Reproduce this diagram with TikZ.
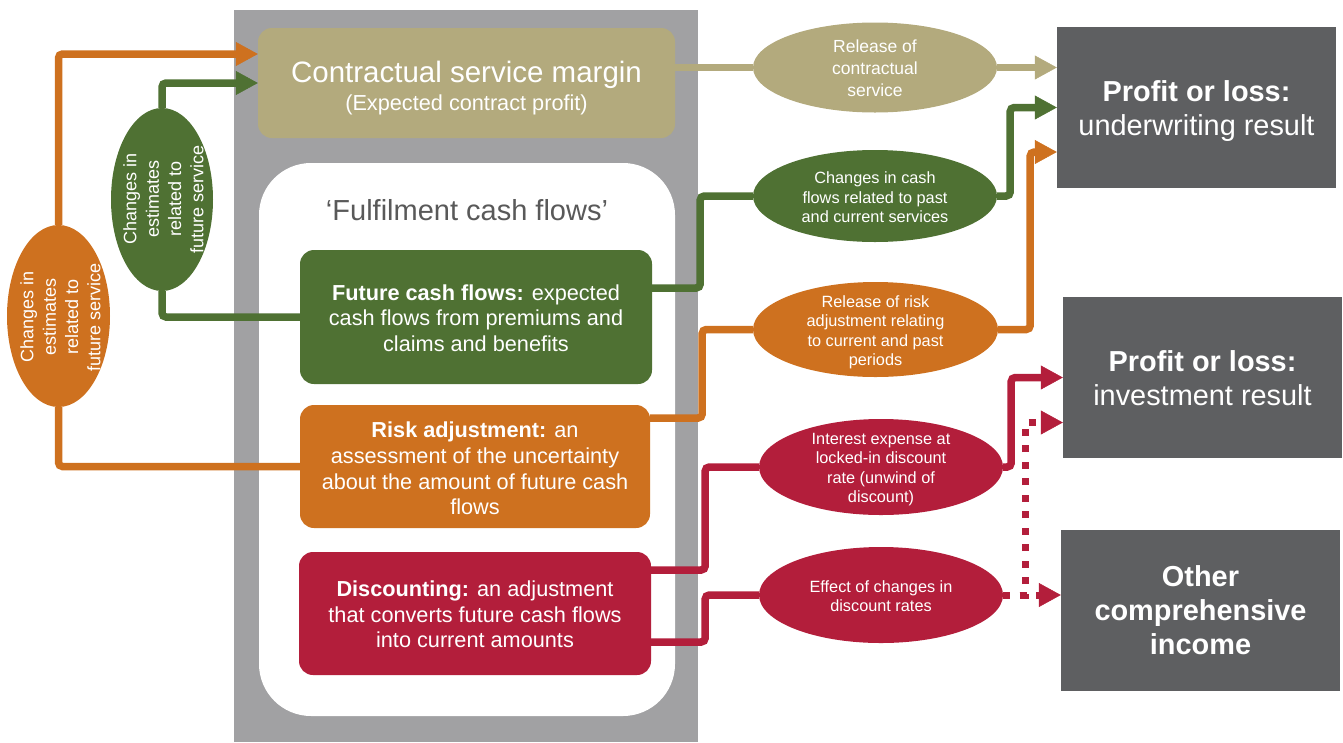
\documentclass[tikz,border=0pt]{standalone}
\usepackage{fontspec}
\setmainfont{Liberation Sans}
\usetikzlibrary{arrows.meta,shapes.geometric}
\definecolor{panel}{HTML}{A1A1A3}
\definecolor{khaki}{HTML}{B3AA7D}
\definecolor{fgreen}{HTML}{4F7133}
\definecolor{forange}{HTML}{CE711F}
\definecolor{fred}{HTML}{B31E3B}
\definecolor{dgray}{HTML}{5E5F61}
\definecolor{labgray}{HTML}{595959}
\tikzset{
  box/.style={draw=none, rounded corners=14pt, inner sep=0pt},
  rbox/.style={draw=none, fill=dgray, inner sep=0pt},
  ell/.style={ellipse, draw=none, inner sep=0pt},
  txt/.style={text=white, align=center, inner sep=0pt},
  boxfont/.style={font=\fontsize{21.7}{25.6}\selectfont},
  ellfont/.style={font=\fontsize{16.3}{19.5}\selectfont},
  sidefont/.style={font=\fontsize{18}{22.3}\selectfont},
  resfont/.style={font=\fontsize{28.9}{33.6}\selectfont},
  conn/.style={line width=7.5pt, rounded corners=4pt},
  arr/.style={-{Triangle[length=22pt,width=24pt,line width=0.5pt]}},
  dotconn/.style={line width=7pt, dash pattern=on 7pt off 9.5pt}
}
\begin{document}
\begin{tikzpicture}[x=1pt,y=-1pt]
\useasboundingbox (0,0) rectangle (1343,742);
% grey column
\fill[panel] (234,10) rectangle (698,742);
% CSM
\node[box, fill=khaki, minimum width=417pt, minimum height=110pt] (csm) at (466.5,83) {};
\node[txt, anchor=base, font=\fontsize{29.5}{34}\selectfont] (csmt) at (466.5,82) {Contractual service margin};
\node[txt, anchor=base, font=\fontsize{21.7}{26}\selectfont] (csms) at (466.5,110) {(Expected contract profit)};
% fulfilment panel
\node[draw=none, fill=white, rounded corners=52pt, minimum width=416pt, minimum height=553pt, inner sep=0pt] (fpanel) at (467,439.5) {};
\node[anchor=base, text=labgray, inner sep=0pt, font=\fontsize{29}{34}\selectfont] (flab) at (467,220) {‘Fulfilment cash flows’};
% inner boxes
\node[box, fill=fgreen, minimum width=352pt, minimum height=134pt] (fcf) at (476,317) {};
\node[txt, boxfont] (fcft) at (476,318) {\textbf{Future cash flows:} expected\\cash flows from premiums and\\claims and benefits};
\node[box, fill=forange, minimum width=350pt, minimum height=123pt] (risk) at (475,466.5) {};
\node[txt, boxfont] (riskt) at (475,468.5) {\textbf{Risk adjustment:} an\\assessment of the uncertainty\\about the amount of future cash\\flows};
\node[box, fill=fred, minimum width=352pt, minimum height=123pt] (disc) at (475,613.5) {};
\node[txt, boxfont] (disct) at (475,614.5) {\textbf{Discounting:} an adjustment\\that converts future cash flows\\into current amounts};
% result boxes
\node[rbox, minimum width=279pt, minimum height=161pt] (b1) at (1196.5,107.5) {};
\node[txt, resfont] (b1t) at (1196.5,111) {\textbf{Profit or loss:}\\underwriting result};
\node[rbox, minimum width=279pt, minimum height=161pt] (b2) at (1202.5,377.5) {};
\node[txt, resfont] (b2t) at (1202.5,378) {\textbf{Profit or loss:}\\investment result};
\node[rbox, minimum width=279pt, minimum height=161pt] (b3) at (1200.5,610.5) {};
\node[txt, resfont, font=\fontsize{28.9}{34}\selectfont\bfseries] (b3t) at (1200.5,610.5) {Other\\comprehensive\\income};
% middle ellipses
\node[ell, fill=khaki, minimum width=244pt, minimum height=90pt] (e1) at (875,67.5) {};
\node[txt, font=\fontsize{17.5}{22}\selectfont] (e1t) at (875,68.5) {Release of\\contractual\\service};
\node[ell, fill=fgreen, minimum width=244pt, minimum height=92pt] (e2) at (875,196) {};
\node[txt, ellfont] (e2t) at (875,197.5) {Changes in cash\\flows related to past\\and current services};
\node[ell, fill=forange, minimum width=245pt, minimum height=95pt] (e3) at (875.5,329.5) {};
\node[txt, ellfont] (e3t) at (875.5,332.5) {Release of risk\\adjustment relating\\to current and past\\periods};
\node[ell, fill=fred, minimum width=244pt, minimum height=96pt] (e4) at (881,467) {};
\node[txt, ellfont] (e4t) at (881,469.5) {Interest expense at\\locked-in discount\\rate (unwind of\\discount)};
\node[ell, fill=fred, minimum width=244pt, minimum height=96pt] (e5) at (881,595) {};
\node[txt, ellfont] (e5t) at (881,596) {Effect of changes in\\discount rates};
% left ellipses
\node[ell, fill=forange, minimum width=103pt, minimum height=182pt] (oe) at (58.5,316) {};
\node[txt, sidefont, rotate=90] (oet) at (60.5,317) {Changes in\\estimates\\related to\\future service};
\node[ell, fill=fgreen, minimum width=102pt, minimum height=183pt] (ge) at (162,199.5) {};
\node[txt, sidefont, rotate=90] (get) at (163.5,199) {Changes in\\estimates\\related to\\future service};
% left connectors
\draw[conn, forange, arr] (oe.north) |- ([yshift=29pt]csm.west);
\draw[conn, forange] (oe.south) |- (risk.west);
\draw[conn, fgreen, arr] (ge.north) |- (csm.west);
\draw[conn, fgreen] (ge.south) |- (fcf.west);
% right connectors
\draw[conn, khaki] (csm.east |- e1.west) -- (e1.west);
\draw[conn, khaki, arr] (e1.east) -- (e1.east -| b1.west);
\draw[conn, fgreen] ([yshift=29pt]fcf.east) -- ++(48,0) |- (e2.west);
\draw[conn, fgreen, arr] (e2.east) -- ++(13,0) |- (b1.west);
\draw[conn, forange] ([yshift=48.5pt]risk.east) -- ++(52,0) |- (e3.west);
\draw[conn, forange, arr] (e3.east) -- ++(32,0) |- ([yshift=-44.5pt]b1.west);
\draw[conn, fred] ([yshift=43.5pt]disc.east) -- ++(54,0) |- (e4.west);
\draw[conn, fred] ([yshift=-28.5pt]disc.east) -- ++(54,0) |- (e5.west);
\draw[conn, fred, arr] (e4.east) -- ++(8,0) |- (b2.west);
\draw[dotconn, fred, arr] (e5.east) -- (e5.east -| b3.west);
\draw[dotconn, fred, arr] (e5.east) -- ++(22,0) |- ([yshift=-45pt]b2.west);
\end{tikzpicture}
\end{document}
